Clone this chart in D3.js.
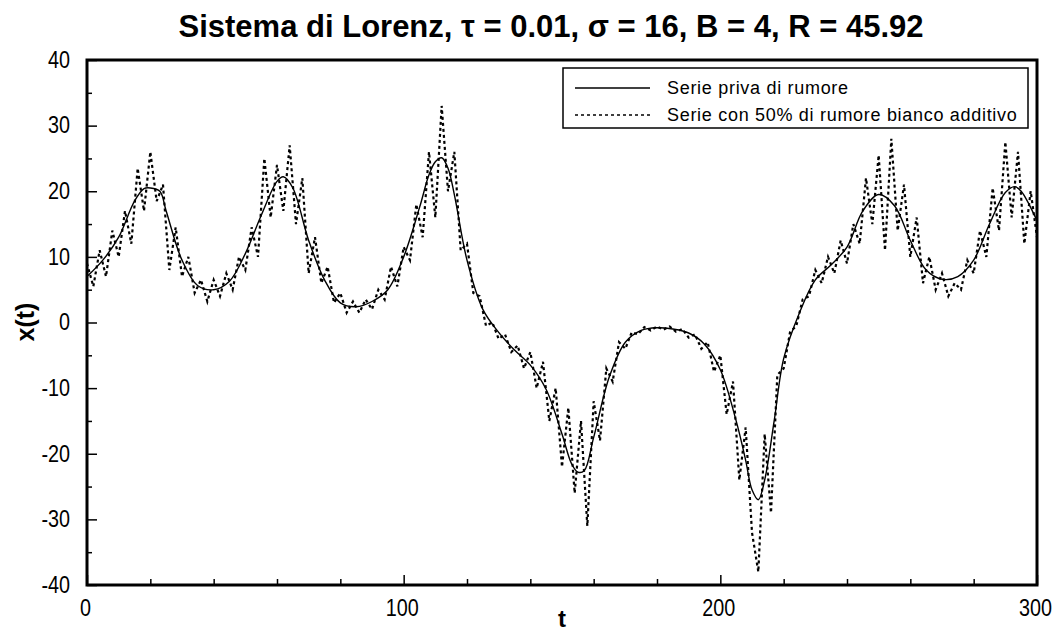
<!DOCTYPE html>
<html>
<head>
<meta charset="utf-8">
<script src="https://cdn.jsdelivr.net/npm/d3@7"></script>
<style>
  body { margin: 0; background: #fff; }
  text { fill: #000; }
</style>
</head>
<body>
<div id="chart"></div>
<script>
// smooth Lorenz x(t)
const smoothT = [0, 5, 10, 15, 18, 20, 23, 25, 30, 35, 40, 45, 50, 55, 60, 62, 65, 70, 75, 80, 85, 90, 95,
  100, 105, 108, 110, 112, 114, 116, 120, 125, 130, 135, 140, 145, 150, 153, 155, 157, 160, 165, 170,
  175, 180, 185, 190, 195, 200, 205, 208, 210, 212, 214, 217, 220, 225, 230, 235, 240, 245, 250, 255,
  260, 265, 270, 275, 280, 285, 290, 293, 295, 300];
const smoothX = [7, 9.5, 13, 18.5, 20.4, 20.5, 20, 17, 9.5, 5.6, 5, 6.3, 10.5, 16.3, 21.5, 22.2, 20.5, 12.5,
  6.5, 3, 2.4, 3.2, 5, 10, 17.5, 22.5, 24.5, 25.1, 23.5, 19.5, 9.5, 2, -1.5, -4.2, -6.5, -10.2, -17,
  -21.5, -22.8, -22.6, -17.5, -8.2, -3, -1.2, -0.8, -1, -1.6, -3.3, -7.2, -15, -21, -25.5, -27, -24,
  -15, -5.5, 1.5, 6.5, 8.8, 11.5, 17, 19.5, 17.8, 12.5, 8, 6.6, 7, 9.5, 15, 19.8, 20.7, 20, 15.5];

// same series with 50% additive white noise, one value every 2 time units
const noisyStep = 2;
const noisyX = [9, 5.5, 11, 7, 14, 10, 17, 12, 23.5, 17, 26, 18.5, 21, 8, 14.5, 7, 10, 4.5, 6.5, 3.2,
  6.5, 4, 7.5, 5, 10, 8, 14.5, 10, 25, 16, 24, 17, 27, 15, 22, 7.5, 13, 6, 8.5, 3,
  4.5, 1.5, 3.2, 1.5, 3.5, 2, 5, 3.5, 8.5, 5.5, 11.5, 9.5, 18, 13, 26, 16, 33, 20, 26, 11,
  12, 4.5, 4, -0.5, 0, -2.5, -1.8, -4.5, -3.5, -7, -4.5, -10, -6, -15, -10, -22, -13, -26, -15, -31,
  -12, -18, -7, -9, -3, -4, -1.5, -1.8, -0.7, -1.2, -0.6, -1.1, -0.6, -1.4, -1, -2.3, -1.8, -4, -3, -7.5,
  -5, -14, -9, -24, -16, -32, -38, -17, -29, -8, -7, -1.5, -0.5, 3.5, 4, 8, 6, 10, 7.5, 12.5,
  9, 15, 12, 22, 15, 25.5, 11, 28, 14, 21, 10, 16, 6, 10, 5, 7.5, 4, 6, 5, 9.5,
  7.5, 14, 10, 20.5, 14, 27.5, 16, 26, 12, 20, 13];

const xTicks = [0, 100, 200, 300];
const yTicks = [-40, -30, -20, -10, 0, 10, 20, 30, 40];
const xMinorTicks = [20, 40, 60, 80, 120, 140, 160, 180, 220, 240, 260, 280];
const yMinorTicks = [-35, -25, -15, -5, 5, 15, 25, 35];
const legendLabels = ["Serie priva di rumore", "Serie con 50% di rumore bianco additivo"];

const width = 1056;
const height = 634;
const margin = { top: 60, right: 19, bottom: 49, left: 87 };
const innerWidth = width - margin.left - margin.right;
const innerHeight = height - margin.top - margin.bottom;
const font = "'Liberation Sans', Arial, sans-serif";
const squeeze = 0.86; // tick digits in the picture are narrow

const svg = d3.select("#chart").append("svg")
  .attr("width", width)
  .attr("height", height)
  .style("font-family", font);

const xScale = d3.scaleLinear().domain([0, 300]).range([0, innerWidth]);
const yScale = d3.scaleLinear().domain([-40, 40]).range([innerHeight, 0]);

const g = svg.append("g").attr("transform", `translate(${margin.left},${margin.top})`);

// minor ticks
g.append("g")
  .call(d3.axisLeft(yScale).tickValues(yMinorTicks).tickSize(-5).tickFormat(""))
  .call(a => a.select(".domain").remove())
  .call(a => a.selectAll("text").remove())
  .call(a => a.selectAll("line").attr("stroke-width", 1.5));
g.append("g")
  .attr("transform", `translate(0,${innerHeight})`)
  .call(d3.axisBottom(xScale).tickValues(xMinorTicks).tickSize(-6).tickFormat(""))
  .call(a => a.select(".domain").remove())
  .call(a => a.selectAll("text").remove())
  .call(a => a.selectAll("line").attr("stroke-width", 1.5));

// major ticks + labels
g.append("g")
  .call(d3.axisLeft(yScale).tickValues(yTicks).tickSize(-10).tickPadding(17).tickFormat(d => String(d)))
  .call(a => a.select(".domain").remove())
  .call(a => a.selectAll("line").attr("stroke-width", 1.5))
  .call(a => a.selectAll("text")
    .style("font-family", font).attr("font-size", 23)
    .attr("x", -17 / squeeze)
    .attr("transform", `scale(${squeeze},1)`));
g.append("g")
  .attr("transform", `translate(0,${innerHeight})`)
  .call(d3.axisBottom(xScale).tickValues(xTicks).tickSize(-10).tickPadding(15).tickFormat(d => String(d)))
  .call(a => a.select(".domain").remove())
  .call(a => a.selectAll("line").attr("stroke-width", 1.5))
  .call(a => a.selectAll("text")
    .style("font-family", font).attr("font-size", 23)
    .attr("x", -2 / squeeze)
    .attr("transform", `scale(${squeeze},1)`));

const line = d3.line()
  .x(d => xScale(d[0]))
  .y(d => yScale(d[1]));

g.append("path")
  .datum(noisyX.map((v, i) => [i * noisyStep, v]))
  .attr("fill", "none")
  .attr("stroke", "#000")
  .attr("stroke-width", 2.2)
  .attr("stroke-dasharray", "3,3")
  .attr("d", line);

g.append("path")
  .datum(smoothT.map((t, i) => [t, smoothX[i]]))
  .attr("fill", "none")
  .attr("stroke", "#000")
  .attr("stroke-width", 1.4)
  .attr("d", line.curve(d3.curveCatmullRom));

// frame
g.append("rect")
  .attr("width", innerWidth)
  .attr("height", innerHeight)
  .attr("fill", "none")
  .attr("stroke", "#000")
  .attr("stroke-width", 3);

// legend
const legend = svg.append("g").attr("transform", "translate(563,68)");
legend.append("rect")
  .attr("width", 465).attr("height", 60)
  .attr("fill", "#fff").attr("stroke", "#000").attr("stroke-width", 1.5);
legendLabels.forEach((label, i) => {
  const y = 20 + i * 27;
  legend.append("line")
    .attr("x1", 12).attr("x2", 87).attr("y1", y).attr("y2", y)
    .attr("stroke", "#000").attr("stroke-width", i ? 1.5 : 1.4)
    .attr("stroke-dasharray", i ? "3,3" : null);
  legend.append("text")
    .attr("x", 104).attr("y", y + 6)
    .attr("font-size", 18)
    .attr("letter-spacing", 0.7)
    .text(label);
});

// titles
svg.append("text")
  .attr("x", 551).attr("y", 37)
  .attr("text-anchor", "middle")
  .attr("font-size", 31)
  .attr("font-weight", "bold")
  .text("Sistema di Lorenz, τ = 0.01, σ = 16, B = 4, R = 45.92");

svg.append("text")
  .attr("transform", "translate(34,322) rotate(-90)")
  .attr("text-anchor", "middle")
  .attr("font-size", 25)
  .attr("font-weight", "bold")
  .text("x(t)");

svg.append("text")
  .attr("x", 562).attr("y", 627)
  .attr("text-anchor", "middle")
  .attr("font-size", 24)
  .attr("font-weight", "bold")
  .text("t");
</script>
</body>
</html>
